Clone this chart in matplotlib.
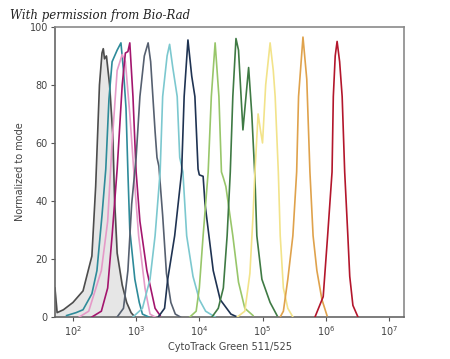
import matplotlib
matplotlib.use("Agg")
import matplotlib.pyplot as plt
import numpy as np

# histogram outlines: log10 of intensity and % of mode
grey_log = [1.715, 1.75, 1.85, 2.0, 2.16, 2.3, 2.36, 2.42, 2.46, 2.48, 2.5, 2.53, 2.58, 2.63, 2.66, 2.7, 2.78, 2.85, 2.92, 2.98]
grey_y = [10, 1.5, 2.5, 5, 9, 21, 45, 80, 91, 92.5, 89, 90, 80, 63, 40, 22, 11, 5, 1.5, 0]

teal_log = [1.9, 2.05, 2.16, 2.3, 2.38, 2.46, 2.52, 2.57, 2.62, 2.7, 2.76, 2.8, 2.84, 2.87, 2.9, 2.98, 3.05, 3.1, 3.2]
teal_y = [0.5, 1.5, 2.5, 8, 16, 35, 51, 75, 88, 92, 94.5, 85, 72, 50, 30, 13, 5, 1, 0]

pink_log = [2.1, 2.25, 2.45, 2.55, 2.62, 2.7, 2.78, 2.83, 2.9, 2.98, 3.04, 3.14, 3.22, 3.3]
pink_y = [0, 2, 16, 33, 60, 85, 90.5, 88, 70, 45, 28, 10, 1, 0]

magenta_log = [2.3, 2.45, 2.55, 2.62, 2.7, 2.78, 2.83, 2.87, 2.9, 2.95, 3.0, 3.06, 3.17, 3.3, 3.38]
magenta_y = [0, 2, 10, 28, 51, 80, 91, 91.5, 94.5, 76, 50, 33, 16, 3, 0.5]

slate_log = [2.7, 2.8, 2.87, 2.93, 3.0, 3.06, 3.13, 3.19, 3.23, 3.3, 3.33, 3.36, 3.42, 3.48, 3.55, 3.62, 3.7]
slate_y = [0, 3, 16, 39, 55, 76, 90, 94.5, 88, 64, 55, 52, 35, 15, 5, 1, 0]

cyan_log = [2.95, 3.1, 3.22, 3.3, 3.38, 3.42, 3.49, 3.53, 3.58, 3.65, 3.69, 3.74, 3.8, 3.9, 4.0, 4.1, 4.25]
cyan_y = [0, 3, 13, 28, 50, 76, 90, 94, 86, 76, 55, 50, 28, 14, 6, 2, 0]

navy_log = [3.35, 3.45, 3.5, 3.61, 3.72, 3.76, 3.82, 3.88, 3.93, 3.98, 4.0, 4.06, 4.09, 4.22, 4.33, 4.5, 4.6]
navy_y = [0, 3, 13, 28, 50, 76, 95.5, 83, 76, 51, 49, 48.5, 39, 16, 6, 1, 0]

lgreen_log = [3.85, 3.95, 4.0, 4.06, 4.14, 4.19, 4.25, 4.31, 4.35, 4.38, 4.42, 4.53, 4.62, 4.72, 4.85]
lgreen_y = [0, 2, 10, 28, 50, 76, 94.5, 76, 50, 48, 45, 28, 12, 3, 0.5]

dgreen_log = [4.2, 4.3, 4.38, 4.44, 4.49, 4.53, 4.58, 4.62, 4.69, 4.78, 4.83, 4.88, 4.91, 4.99, 5.12, 5.23]
dgreen_y = [0, 3, 10, 28, 50, 76, 96, 92, 64.5, 86, 70, 48, 28, 13, 5, 0.5]

yellow_log = [4.6, 4.72, 4.8, 4.85, 4.88, 4.93, 4.97, 5.0, 5.05, 5.12, 5.17, 5.2, 5.25, 5.28, 5.33, 5.4, 5.48]
yellow_y = [0, 2, 15, 35, 50, 70, 64, 60, 80, 94.5, 85, 76, 50, 28, 10, 3, 0]

orange_log = [5.28, 5.33, 5.4, 5.48, 5.54, 5.57, 5.64, 5.7, 5.75, 5.8, 5.86, 5.94, 6.02]
orange_y = [0, 2, 13, 28, 50, 76, 96.5, 82, 50, 28, 16, 6, 0.5]

red_log = [5.83, 5.96, 6.03, 6.1, 6.12, 6.15, 6.18, 6.22, 6.26, 6.3, 6.35, 6.38, 6.43, 6.51]
red_y = [0, 7, 28, 50, 76, 90, 95, 88, 76, 50, 28, 14, 4, 0]

curves = [
    (teal_log, teal_y, "#2e8b9a"),
    (pink_log, pink_y, "#e59ac8"),
    (magenta_log, magenta_y, "#a3166e"),
    (slate_log, slate_y, "#566070"),
    (cyan_log, cyan_y, "#7cc8cf"),
    (navy_log, navy_y, "#1f3352"),
    (lgreen_log, lgreen_y, "#98c66a"),
    (dgreen_log, dgreen_y, "#3f7a44"),
    (yellow_log, yellow_y, "#f2e38a"),
    (orange_log, orange_y, "#dfa24c"),
    (red_log, red_y, "#b3162c"),
]

fig = plt.figure(figsize=(4.5, 3.59), dpi=100)
ax = fig.add_axes([0.122, 0.117, 0.776, 0.808])

#unstained control is the filled one
gx = 10 ** np.array(grey_log)
ax.fill_between(gx, grey_y, 0, color="#e6e6e6", zorder=1)
ax.plot(gx, grey_y, color="#4d4d4d", lw=1.2, zorder=2)

for lx, y, c in curves:
    ax.plot(10 ** np.array(lx), y, color=c, lw=1.2, zorder=3)

ax.set_xscale("log")
ax.set_xlim(10 ** 1.715, 10 ** 7.24)
ax.set_ylim(0, 100)
ax.set_xticks([1e2, 1e3, 1e4, 1e5, 1e6, 1e7])
ax.set_xticklabels([r"$10^{%d}$" % n for n in range(2, 8)])
ax.xaxis.set_minor_locator(matplotlib.ticker.NullLocator())
ax.set_yticks([0, 20, 40, 60, 80, 100])
ax.tick_params(axis="both", direction="out", length=3, width=0.8,
               color="#555555", labelsize=7, labelcolor="#444444", pad=2)
for s in ax.spines.values():
    s.set_color("#8a8a8a")
    s.set_linewidth(1.2)
ax.spines["left"].set_color("#666666")
ax.spines["bottom"].set_color("#666666")

ax.set_xlabel("CytoTrack Green 511/525", fontsize=7, color="#444444", labelpad=3)
ax.set_ylabel("Normalized to mode", fontsize=7, color="#444444", labelpad=3)

fig.text(0.022, 0.958, "With permission from Bio-Rad", fontsize=8.5,
         family="DejaVu Serif", style="italic", color="#222222", va="center")

fig.savefig("out.png", dpi=100)
